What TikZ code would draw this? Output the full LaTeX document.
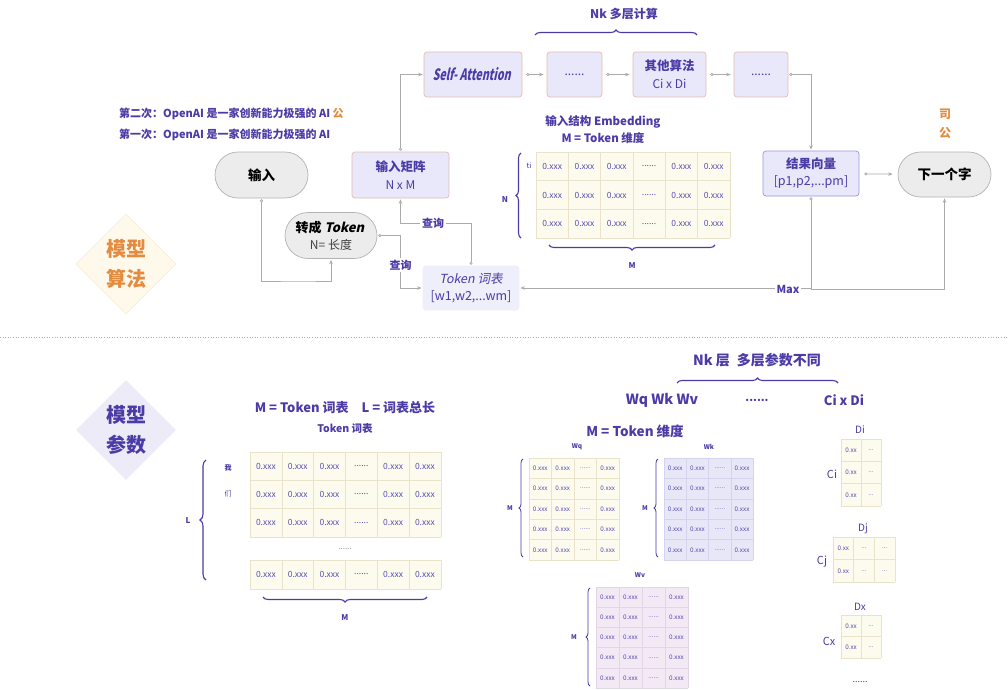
\documentclass[tikz,border=0pt]{standalone}
\usepackage{fontspec}
\usepackage{graphicx}
\setmainfont{Noto Sans CJK SC}[AutoFakeSlant=0.2]
\usetikzlibrary{arrows.meta,shapes.geometric,shapes.misc,decorations.pathreplacing,calc}
\definecolor{pur}{HTML}{4B3BA6}
\definecolor{cellpur}{HTML}{5A4DB3}
\definecolor{lav}{HTML}{E9E8FA}
\definecolor{lavlight}{HTML}{EFEEFB}
\definecolor{lavdark}{HTML}{9A93DA}
\definecolor{salm}{HTML}{E6BBA8}
\definecolor{pillgray}{HTML}{ECECEC}
\definecolor{pillline}{HTML}{B3B3B3}
\definecolor{lineg}{HTML}{ABABAB}
\definecolor{orng}{HTML}{E38B3F}
\definecolor{creamd}{HTML}{FFF9EC}
\definecolor{creamline}{HTML}{F3E8D2}
\definecolor{lavd}{HTML}{ECEBF7}
\definecolor{cream}{HTML}{FDFBEE}
\definecolor{beige}{HTML}{E9E3CC}
\definecolor{lavcell}{HTML}{E8E7F7}
\definecolor{lavgrid}{HTML}{D6D3EE}
\definecolor{pinkcell}{HTML}{F2E9F4}
\definecolor{pinkgrid}{HTML}{E2D6E6}
\newcommand\fsz[2]{\fontsize{#1}{#2}\selectfont}
\newcommand\sixdots{......}
\newcommand\threedots{...}
\newcommand\slantit[2]{\tikz[baseline=(#1.base)]\node[shape=rectangle, draw=none, fill=none, minimum width=0pt, minimum height=0pt, rounded corners=0pt, xslant=0.22, transform shape, inner sep=0pt, outer sep=0pt] (#1) {#2};}
\newcommand\mygrid[9]{%
  \fill[#8] (#2,#3) rectangle ({#2+#6*#4},{#3+#7*#5});
  \foreach \gi in {0,...,#6}{\draw[gline] ({#2+\gi*#4},#3) -- ({#2+\gi*#4},{#3+#7*#5});}
  \foreach \gj in {0,...,#7}{\draw[gline] (#2,{#3+\gj*#5}) -- ({#2+#6*#4},{#3+\gj*#5});}
  \foreach \gt [count=\gc] in {#9}{\foreach \gr in {1,...,#7}{\node[cell] (#1-\gr-\gc) at ({#2+(\gc-0.5)*#4},{#3+(\gr-0.5)*#5}) {\gt};}}
}
\tikzset{
  box/.style={rectangle, rounded corners=3pt, fill=lav, draw=salm, line width=0.7pt, align=center, text=pur, inner sep=2pt},
  resbox/.style={box, draw=lavdark},
  pill/.style={rounded rectangle, fill=pillgray, draw=pillline, line width=0.7pt, align=center, inner sep=2pt},
  conn/.style={draw=lineg, line width=0.7pt, {Circle[open,length=3pt,width=3pt,fill=white]}-{Stealth[length=4.5pt,width=3.5pt]}, shorten <=1pt, shorten >=1pt},
  connb/.style={draw=lineg, line width=0.7pt, -{Stealth[length=4.5pt,width=3.5pt]}, shorten >=1pt},
  lbl/.style={text=pur, inner sep=1pt},
  onl/.style={lbl, fill=white, inner sep=2pt, font=\bfseries\fsz{11}{13}},
  br/.style={decorate, decoration={brace,amplitude=5pt}, draw=pur, line width=1.1pt},
  dia/.style={diamond, minimum width=100pt, minimum height=100pt, inner sep=0pt, align=center},
  gline/.style={draw=beige, line width=0.5pt},
  cell/.style={text=cellpur, inner sep=0pt, font=\fsz{8.5}{9}},
}
\begin{document}
\begin{tikzpicture}[x=1pt,y=-1pt]
\useasboundingbox (0,0) rectangle (1008,689);
\fill[white] (0,0) rectangle (1008,689);

% ---------- diamonds ----------
\node[dia, fill=creamd, draw=creamline, text=orng, font=\bfseries\fsz{20}{30}] (dia1) at (126,264) {模型\\算法};
\node[dia, fill=lavd, draw=none, text=pur, font=\bfseries\fsz{20}{30}] (dia2) at (126,430) {模型\\参数};

% ---------- top: layer chain ----------
\node[lbl, font=\bfseries\fsz{12}{14}] (nk) at (624,14) {Nk 多层计算};
\draw[br] (535,35) -- (697,35);

\node[box, minimum width=98pt, minimum height=45pt] (sa) at (473,74.5) {\slantit{saslant}{\resizebox{78pt}{13pt}{\bfseries Self- Attention}}};
\node[box, minimum width=55pt, minimum height=45pt, font=\fsz{12}{14}] (dd1) at (574.5,74.5) {......};
\node[box, minimum width=73pt, minimum height=45pt, font=\bfseries\fsz{12.5}{17}] (oth) at (669.5,74.5) {其他算法\\[1pt]{\mdseries\fsz{12}{14}Ci x Di}};
\node[box, minimum width=54pt, minimum height=45pt, font=\fsz{12}{14}] (dd2) at (761,74.5) {......};

\draw[conn, shorten <=4pt, shorten >=3pt] (sa) -- (dd1);
\draw[conn, shorten <=4pt, shorten >=3pt] (dd1) -- (oth);
\draw[conn, shorten <=4pt, shorten >=3pt] (oth) -- (dd2);

% ---------- input side ----------
\node[lbl, anchor=west, font=\bfseries\fsz{11}{13}] (t2) at (118,114) {第二次：OpenAI 是一家创新能力极强的 AI \textcolor{orng}{公}};
\node[lbl, anchor=west, font=\bfseries\fsz{11}{13}] (t1) at (118,135) {第一次：OpenAI 是一家创新能力极强的 AI};

\node[pill, minimum width=97pt, minimum height=46pt, font=\bfseries\fsz{13.5}{15}] (inp) at (261.5,175) {输入};
\node[box, minimum width=97pt, minimum height=46pt, font=\bfseries\fsz{12.5}{17}] (mat) at (400.5,175) {输入矩阵\\[1pt]{\mdseries\fsz{12}{14}N x M}};
\node[pill, minimum width=96pt, minimum height=46pt, font=\bfseries\fsz{13}{17}] (tt) at (331,235.5) {转成 \slantit{ttslant}{Token}\\[0pt]{\mdseries\color{black!75}\fsz{12}{14}N= 长度}};
\node[box, draw=lavlight, fill=lavlight, minimum width=96pt, minimum height=44pt, font=\fsz{12.5}{17}] (tok) at (471,288) {\textit{Token 词表}\\[0pt][w1,w2,...wm]};

\draw[conn] (mat.north) |- (sa.west);

\coordinate (c1) at (300,281);
\draw[conn] (inp.south) |- (c1) -| (tt.south);

\coordinate (q1) at (400.5,223);
\draw[conn] (tok.north) |- (q1) -- (mat.south);
\node[onl] (qa) at (433,223) {查询};

\coordinate (q2) at (400.5,240);
\draw[conn] (tt.east) -| (q2) |- (tok.west);
\node[onl] (qb) at (400.5,265) {查询};

% ---------- embedding matrix ----------
\node[lbl, font=\bfseries\fsz{11.5}{13}] (emb1) at (603,122) {输入结构 Embedding};
\node[lbl, font=\bfseries\fsz{11.5}{13}] (emb2) at (603,138) {M = Token 维度};
\begin{scope}
\mygrid{em}{536}{152}{32.3}{28.7}{6}{3}{cream}{0.xxx,0.xxx,0.xxx,\sixdots,0.xxx,0.xxx}
\end{scope}
\node[lbl, font=\fsz{7.5}{9}] (ti) at (529,166) {ti};
\draw[br] (521,238) -- (521,153);
\node[lbl, font=\bfseries\fsz{8}{9}] (nlab) at (505,200) {N};
\draw[br] (715,245) -- (549,245);
\node[lbl, font=\bfseries\fsz{8}{9}] (mlab) at (632,266) {M};

% ---------- result ----------
\node[resbox, minimum width=96pt, minimum height=45pt, font=\bfseries\fsz{12.5}{17}] (res) at (811,173.5) {结果向量\\[0pt]{\mdseries\fsz{12.5}{14}[p1,p2,...pm]}};
\node[pill, minimum width=97pt, minimum height=45pt, font=\bfseries\fsz{13.5}{15}] (nxt) at (944.5,174.5) {下一个字};
\node[lbl, text=orng, font=\bfseries\fsz{12}{14}] (si) at (945,114) {司};
\node[lbl, text=orng, font=\bfseries\fsz{12}{14}] (gong) at (945,133) {公};
\draw[conn] (dd2.east) -| (res.north);
\draw[conn, shorten <=5pt, shorten >=5pt] (res) -- (nxt);

\coordinate (mx) at (811,289);
\draw[conn] (res.south) |- (tok.east);
\draw[connb] (mx) -| (nxt.south);
\node[onl] (maxl) at (788,289) {Max};

% ---------- separator ----------
\draw[lineg, dotted, line width=0.6pt] (0,337) -- (1008,337);

% ---------- bottom left: vocabulary ----------
\node[lbl, font=\bfseries\fsz{13}{15}] (bl1) at (345,408) {M = Token 词表\quad L = 词表总长};
\node[lbl, font=\bfseries\fsz{10.5}{12}] (bl2) at (345,428) {Token 词表};
\begin{scope}
\mygrid{vo}{250}{452}{31.8}{28.3}{6}{3}{cream}{0.xxx,0.xxx,0.xxx,\sixdots,0.xxx,0.xxx}
\mygrid{vl}{250}{560}{31.8}{29}{6}{1}{cream}{0.xxx,0.xxx,0.xxx,\sixdots,0.xxx,0.xxx}
\end{scope}
\node[lbl, font=\fsz{8}{9}, text=black!45] (vdots) at (345,549) {......};
\node[lbl, font=\bfseries\fsz{7}{8}] (wo) at (228,468) {我};
\node[lbl, font=\fsz{7}{8}] (men) at (228,494) {们};
\draw[br, decoration={brace,amplitude=6pt}] (206,580) -- (206,460);
\node[lbl, font=\bfseries\fsz{8}{9}] (llab) at (188,521) {L};
\draw[br] (427,597) -- (263,597);
\node[lbl, font=\bfseries\fsz{8}{9}] (mlab2) at (345,618) {M};

% ---------- bottom middle: layer params ----------
\node[lbl, font=\bfseries\fsz{14}{16}] (nk2) at (757,360) {Nk 层\enspace 多层参数不同};
\draw[br] (677,383) -- (838,383);
\node[lbl, font=\bfseries\fsz{14}{16}] (wqkv) at (662,400) {Wq Wk Wv};
\node[lbl, font=\bfseries\fsz{11}{12}] (mdots) at (757,400) {......};
\node[lbl, font=\bfseries\fsz{13}{15}] (cidi) at (844,400) {Ci x Di};
\node[lbl, font=\bfseries\fsz{13.5}{15}] (mtok) at (635,431) {M = Token 维度};

\begin{scope}[cell/.style={text=cellpur, inner sep=0pt, font=\fsz{6.3}{7}}]
\mygrid{wq}{529}{458}{22.5}{20.4}{4}{5}{cream}{0.xxx,0.xxx,\sixdots,0.xxx}
\end{scope}
\begin{scope}[gline/.style={draw=lavgrid, line width=0.5pt}, cell/.style={text=cellpur, inner sep=0pt, font=\fsz{6.3}{7}}]
\mygrid{wk}{664}{458}{22.3}{20.4}{4}{5}{lavcell}{0.xxx,0.xxx,\sixdots,0.xxx}
\end{scope}
\begin{scope}[gline/.style={draw=pinkgrid, line width=0.5pt}, cell/.style={text=cellpur, inner sep=0pt, font=\fsz{6.3}{7}}]
\mygrid{wv}{596}{587}{23}{20.2}{4}{5}{pinkcell}{0.xxx,0.xxx,\sixdots,0.xxx}
\end{scope}
\node[lbl, font=\bfseries\fsz{6.5}{7}] (wql) at (577,447) {Wq};
\node[lbl, font=\bfseries\fsz{6.5}{7}] (wkl) at (709,447) {Wk};
\node[lbl, font=\bfseries\fsz{6.5}{7}] (wvl) at (640,575) {Wv};
\draw[br, line width=0.8pt, decoration={brace,amplitude=4pt}] (523,557) -- (523,459);
\draw[br, line width=0.8pt, decoration={brace,amplitude=4pt}] (658,557) -- (658,459);
\draw[br, line width=0.8pt, decoration={brace,amplitude=4pt}] (590,686) -- (590,588);
\node[lbl, font=\bfseries\fsz{6.5}{7}] (mq) at (510,508) {M};
\node[lbl, font=\bfseries\fsz{6.5}{7}] (mk) at (645,508) {M};
\node[lbl, font=\bfseries\fsz{6.5}{7}] (mv) at (574,637) {M};

% ---------- bottom right: other algorithms ----------
\begin{scope}[cell/.style={text=cellpur, inner sep=0pt, font=\fsz{6.3}{7}}]
\mygrid{ci}{841}{439}{20}{22.3}{2}{3}{cream}{0.xx,\threedots}
\mygrid{cj}{833}{537}{20.7}{22.5}{3}{2}{cream}{0.xx,\threedots,\threedots}
\mygrid{cx}{841}{615}{20}{21.5}{2}{2}{cream}{0.xx,\threedots}
\end{scope}
\node[lbl, font=\fsz{10}{11}] (dil) at (860,430) {Di};
\node[lbl, font=\fsz{11}{12}] (cil) at (832,474) {Ci};
\node[lbl, font=\fsz{10}{11}] (djl) at (863,529) {Dj};
\node[lbl, font=\fsz{11}{12}] (cjl) at (822,562) {Cj};
\node[lbl, font=\fsz{10}{11}] (dxl) at (860,607) {Dx};
\node[lbl, font=\fsz{11}{12}] (cxl) at (829,641) {Cx};
\node[lbl, font=\fsz{9}{10}] (rdots) at (860,682) {......};
\end{tikzpicture}
\end{document}
